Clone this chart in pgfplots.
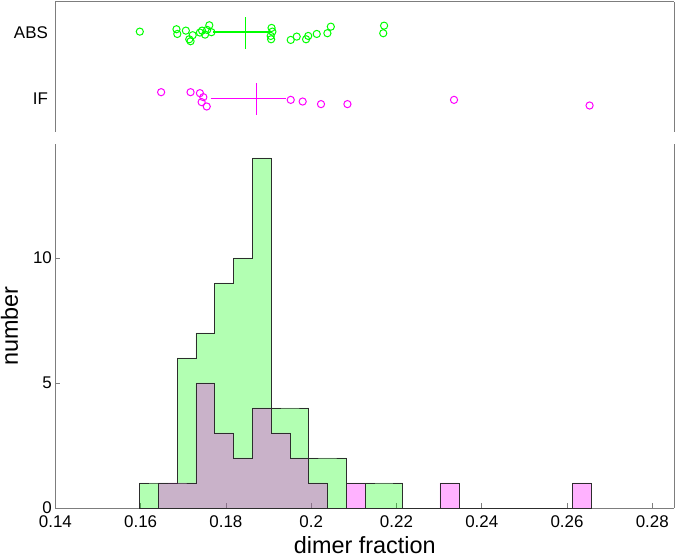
\documentclass[border=0pt]{standalone}
\usepackage{pgfplots}
\pgfplotsset{compat=1.18}
\usepackage{fontspec}
\setmainfont{Liberation Sans}
\definecolor{axgray}{RGB}{125,125,125}
\definecolor{edgegray}{RGB}{45,45,45}
\definecolor{absgreen}{RGB}{0,255,0}
\definecolor{ifmag}{RGB}{255,0,255}

\pgfplotsset{
  common/.style={
    scale only axis, width=618.6bp,
    xmin=0.14, xmax=0.2851,
    axis line style={axgray, line width=1bp, -},
    tick style={axgray, line width=0.8bp},
    tick align=inside,
    major tick length=5bp,
    /pgf/number format/assume math mode=true,
    tick label style={font=\fontsize{17}{20}\selectfont, black},
    clip=false,
  }
}

\begin{document}
\begin{tikzpicture}
\path[use as bounding box] (0,0) rectangle (676bp,558bp);

% top panel: individual values, mean and spread
\begin{axis}[common,
  at={(55.4bp,426.3bp)}, anchor=south west,
  height=129.7bp,
  ymin=0.5, ymax=2.456,
  axis x line*=top, axis y line*=box,
  xtick=\empty,
  ytick={1,2}, yticklabels={IF,ABS},
  ytick pos=left,
  major tick length=0pt,
  yticklabel style={xshift=-4bp},
]
\addplot[only marks, mark=o, mark size=3.6bp, absgreen, line width=1bp] coordinates {
  (0.1598,2.009) (0.1684,2.045) (0.1686,1.974) (0.1706,2.024)
  (0.1714,1.894) (0.1717,1.864) (0.1722,1.955) (0.1739,1.995)
  (0.1744,2.024) (0.1751,1.964) (0.1756,2.035) (0.1761,2.105)
  (0.1766,2.000) (0.1907,2.065) (0.1909,2.009) (0.1905,1.944)
  (0.1906,1.894) (0.1952,1.884) (0.1966,1.934) (0.1988,1.894)
  (0.1993,1.944) (0.2013,1.974) (0.2038,1.985) (0.2046,2.084)
  (0.2171,2.099) (0.2169,1.985)
};
\addplot[absgreen, line width=1.8bp] coordinates {(0.1770,2) (0.1907,2)};
\addplot[absgreen, line width=1bp] coordinates {(0.1847,1.744) (0.1847,2.235)};

\addplot[only marks, mark=o, mark size=3.6bp, ifmag, line width=1bp] coordinates {
  (0.1648,1.096) (0.1717,1.096) (0.1739,1.081) (0.1747,1.021)
  (0.1743,0.946) (0.1755,0.880) (0.1952,0.980) (0.1980,0.955)
  (0.2023,0.916) (0.2085,0.916) (0.2335,0.980) (0.2653,0.895)
};
\addplot[ifmag, line width=1.8bp] coordinates {(0.1764,1) (0.1942,1)};
\addplot[ifmag, line width=1bp] coordinates {(0.1871,0.755) (0.1871,1.241)};
\end{axis}

% histogram panel
\begin{axis}[common,
  at={(55.4bp,50bp)}, anchor=south west,
  height=364bp,
  ymin=0, ymax=14.56,
  axis x line*=bottom, axis y line*=box,
  ytick pos=left,
  xtick={0.14,0.16,0.18,0.2,0.22,0.24,0.26,0.28},
  xticklabels={0.14,0.16,0.18,0.2,0.22,0.24,0.26,0.28},
  xticklabel style={yshift=-4bp},
  ytick={0,5,10},
  xlabel={dimer fraction},
  ylabel={number},
  every axis x label/.style={at={(axis description cs:0.5,-0.1255)}, anchor=base,
    font=\fontsize{23.5}{27}\selectfont},
  every axis y label/.style={at={(axis description cs:-0.0605,0.5)}, rotate=90,
    anchor=base, font=\fontsize{23.5}{27}\selectfont},
]
\addplot[const plot, draw=edgegray, line width=0.9bp,
  fill=absgreen, fill opacity=0.3, draw opacity=1] coordinates {
  (0.15967,1) (0.16413,1) (0.16858,6) (0.17297,7) (0.17742,9)
  (0.18181,10) (0.18626,14) (0.19062,4) (0.19508,4) (0.19946,2)
  (0.20385,2) (0.20830,0) (0.21275,1) (0.2171,1) (0.2215,1)
} \closedcycle;
\addplot[const plot, draw=edgegray, line width=0.9bp,
  fill=ifmag, fill opacity=0.3, draw opacity=1] coordinates {
  (0.16413,1) (0.16858,1) (0.17297,5) (0.17742,3) (0.18181,2)
  (0.18626,4) (0.19062,3) (0.19508,2) (0.19946,1) (0.20385,0)
  (0.20830,1) (0.21275,0) (0.2302,1) (0.2347,0) (0.2613,1) (0.2657,1)
} \closedcycle;
\end{axis}
\end{tikzpicture}
\end{document}
